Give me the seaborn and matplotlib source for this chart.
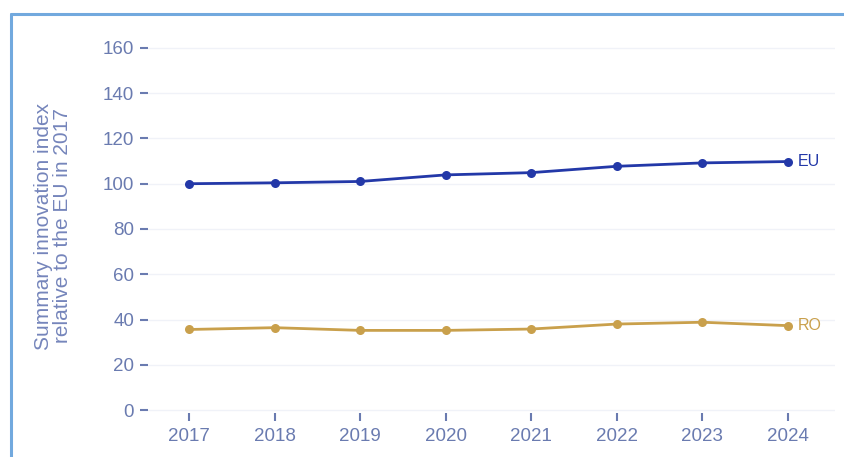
# -*- coding: utf-8 -*-
# Summary innovation index, EU vs RO, 2017-2024
import pandas as pd
import seaborn as sns
import matplotlib.pyplot as plt
from matplotlib.lines import Line2D

# data
years = [2017, 2018, 2019, 2020, 2021, 2022, 2023, 2024]
eu_values = [100.0, 100.4, 101.0, 103.9, 104.9, 107.7, 109.2, 109.8]
ro_values = [35.6, 36.4, 35.2, 35.2, 35.8, 38.0, 38.8, 37.3]
series_names = ['EU', 'RO']
y_ticks = [0, 20, 40, 60, 80, 100, 120, 140, 160]

eu_color = '#2338a8'
ro_color = '#c9a04c'
tick_color = '#6a7bb0'
label_color = '#7585bb'

df = pd.DataFrame({
    'year': years * 2,
    'value': eu_values + ro_values,
    'series': [series_names[0]] * len(years) + [series_names[1]] * len(years),
})

sns.set_style('white')
plt.rcParams['font.family'] = ['Liberation Sans', 'DejaVu Sans']

fig = plt.figure(figsize=(8.44, 4.57), dpi=100)
ax = fig.add_axes([148 / 844, 1 - 413 / 457, (835 - 148) / 844, (413 - 40) / 457])

sns.lineplot(data=df, x='year', y='value', hue='series',
             palette={'EU': eu_color, 'RO': ro_color},
             marker='o', markersize=6.5, markeredgewidth=0,
             linewidth=2.0, legend=False, ax=ax)

# end labels
for name, vals, col in [('EU', eu_values, eu_color), ('RO', ro_values, ro_color)]:
    ax.annotate(name, xy=(years[-1], vals[-1]), xytext=(7, 0),
                textcoords='offset points', va='center', ha='left',
                fontsize=11.5, color=col)

ax.set_xlim(2016.52, 2024.55)
ax.set_ylim(-1.3, 163.5)
ax.set_xticks(years)
ax.set_yticks(y_ticks)
ax.set_xlabel('')
ax.set_ylabel('')
ax.grid(axis='y', color='#f0f2f8', linewidth=1.0)
ax.grid(axis='x', visible=False)
for s in ax.spines.values():
    s.set_visible(False)
ax.tick_params(axis='both', colors=tick_color, labelsize=13.5,
               length=6, width=1.5, direction='out')
ax.tick_params(axis='y', pad=4)
ax.tick_params(axis='x', pad=5)
ax.tick_params(left=True, bottom=True)

fig.text(53 / 844, 1 - 226 / 457,
         'Summary innovation index\nrelative to the EU in 2017',
         rotation=90, ha='center', va='center', fontsize=15,
         color=label_color, linespacing=1.0)

# light blue frame at top and left
frame_col = '#72a9de'
fx = 11 / 844
fy = 1 - 13.5 / 457
fig.add_artist(Line2D([fx, 1.0], [fy, fy], color=frame_col, linewidth=2.2,
                      transform=fig.transFigure))
fig.add_artist(Line2D([fx, fx], [0.0, fy], color=frame_col, linewidth=2.2,
                      transform=fig.transFigure))

fig.savefig('out.png', dpi=100)
